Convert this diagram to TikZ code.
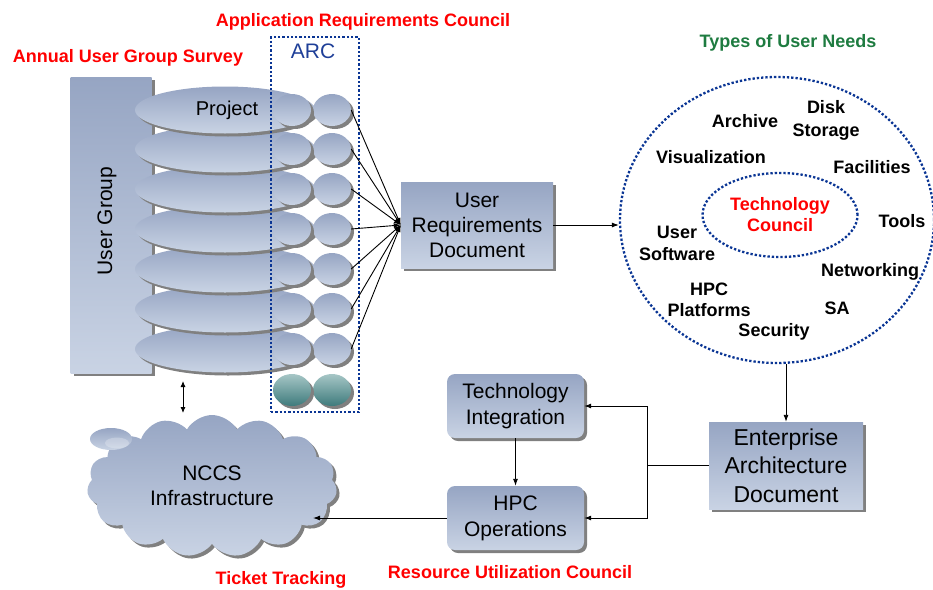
\documentclass[tikz,border=0pt]{standalone}
\usepackage{fontspec}
\setmainfont{Liberation Sans}
\usetikzlibrary{shapes.geometric,shapes.symbols,shadows,arrows.meta}
\definecolor{boxtop}{HTML}{96A5C3}
\definecolor{boxbot}{HTML}{C9D3E4}
\definecolor{tealtop}{HTML}{A6C6C6}
\definecolor{tealbot}{HTML}{3E7B7C}
\definecolor{arcblue}{HTML}{1F3F98}
\definecolor{dotblue}{HTML}{0A3594}
\definecolor{needgreen}{HTML}{1E7B40}
\tikzset{
 shad/.style={drop shadow={shadow xshift=3pt,shadow yshift=-3pt,fill=black!50,opacity=1}},
 grad/.style={top color=boxtop,bottom color=boxbot},
 proj/.style={ellipse,grad,shad,minimum width=180pt,minimum height=47pt,inner sep=0pt},
 ball/.style={ellipse,grad,shad,minimum width=38pt,minimum height=32pt,inner sep=0pt},
 tball/.style={ellipse,top color=tealtop,bottom color=tealbot,shad,minimum width=38pt,minimum height=32pt,inner sep=0pt},
 docbox/.style={rectangle,grad,shad,align=center,inner sep=0pt},
 rbox/.style={rectangle,rounded corners=8pt,grad,shad,align=center,inner sep=0pt,minimum width=137pt,minimum height=64pt,font=\fontsize{21}{26}\selectfont},
 redlbl/.style={text=red,font=\bfseries\fontsize{18}{20}\selectfont},
 need/.style={font=\bfseries\fontsize{18}{22}\selectfont,align=center,inner sep=0pt},
 dotline/.style={draw=dotblue,line width=2.3pt,dash pattern=on 2.3pt off 2pt},
 arr/.style={-{Latex[length=7pt,width=5pt]},line width=0.9pt},
 plain/.style={line width=0.9pt},
}
\begin{document}
\begin{tikzpicture}[x=1pt,y=-1pt]
\useasboundingbox (0,0) rectangle (933,589);
% titles
\node[redlbl] (t1) at (363,22) {Application Requirements Council};
\node[redlbl] (t2) at (128,58) {Annual User Group Survey};
\node[text=needgreen,font=\bfseries\fontsize{18}{20}\selectfont] (t3) at (788,43) {Types of User Needs};
\node[redlbl] (t4) at (281,580) {Ticket Tracking};
\node[redlbl] (t5) at (510,572) {Resource Utilization Council};
% user group
\node[rectangle,grad,shad,minimum width=81pt,minimum height=296pt,inner sep=0pt] (ug) at (111,225) {};
\node[rotate=90,font=\fontsize{21}{24}\selectfont] (ugt) at (107,221) {User Group};
% project ellipses (bottom to top)
\node[proj] (p7) at (225,349) {};
\node[proj] (p6) at (225,309) {};
\node[proj] (p5) at (225,269) {};
\node[proj] (p4) at (225,229) {};
\node[proj] (p3) at (225,189) {};
\node[proj] (p2) at (225,149) {};
\node[proj] (p1) at (225,110) {};
\node[font=\fontsize{20}{24}\selectfont] (ptxt) at (227,110) {Project};
% balls
\foreach \i/\y in {1/110,2/149,3/189,4/229,5/269,6/309,7/349}{
  \node[ball] (b\i) at (332,\y) {};
  \node[ball] (a\i) at (292,\y) {};
}
\node[tball] (tb2) at (332,390) {};
\node[tball] (tb1) at (292,390) {};
% ARC
\node[dotline,rectangle,minimum width=88pt,minimum height=375pt,inner sep=0pt] (arc) at (315,224.5) {};
\node[text=arcblue,font=\fontsize{21}{24}\selectfont] (arct) at (313,51) {ARC};
% URD
\node[docbox,minimum width=152pt,minimum height=86pt,font=\fontsize{21}{25}\selectfont] (urd) at (477,225) {User\\Requirements\\Document};
\foreach \i in {1,...,7}{ \draw[arr] (b\i.east) -- (urd.west); }
% needs
\node[ellipse,dotline,minimum width=314pt,minimum height=286pt] (needs) at (777,220) {};
\node[ellipse,dotline,minimum width=155pt,minimum height=84pt,align=center,text=red,font=\bfseries\fontsize{18}{21}\selectfont,inner sep=0pt] (tc) at (780,215) {Technology\\Council};
\node[need] (n1) at (745,121) {Archive};
\node[need,font=\bfseries\fontsize{18}{23}\selectfont] (n2) at (826,120) {Disk\\Storage};
\node[need] (n3) at (711,157) {Visualization};
\node[need] (n4) at (872,167) {Facilities};
\node[need] (n5) at (902,221) {Tools};
\node[need] (n6) at (677,243) {User\\Software};
\node[need] (n7) at (870,272) {Networking};
\node[need,font=\bfseries\fontsize{18}{21}\selectfont] (n8) at (709,300) {HPC\\Platforms};
\node[need] (n9) at (837,308) {SA};
\node[need] (n10) at (774,332) {Security};
\draw[arr] (urd.east) -- (urd.east -| needs.west);
% EAD
\node[docbox,minimum width=154pt,minimum height=87pt,font=\fontsize{23}{28.5}\selectfont] (ead) at (786,465.5) {Enterprise\\Architecture\\Document};
\draw[arr] (ead.north |- needs.south) -- (ead.north);
% TI / HPC
\node[rbox] (ti) at (515.5,406) {Technology\\Integration};
\node[rbox] (hpc) at (515.5,518) {HPC\\Operations};
\draw[arr] (ti.south) -- (hpc.north);
\coordinate (j) at (647,465.5);
\draw[plain] (ead.west) -- (j);
\draw[arr] (j) |- (ti.east);
\draw[arr] (j) |- (hpc.east);
% cloud
\node[cloud,cloud puffs=15,cloud puff arc=120,aspect=1.75,grad,shad,minimum width=250pt,minimum height=142pt,inner sep=0pt,align=center,font=\fontsize{21}{25}\selectfont] (cloud) at (212,486) {NCCS\\Infrastructure};
\node[ellipse,top color=boxtop,bottom color=boxbot,minimum width=42pt,minimum height=22pt,inner sep=0pt] (puff) at (111,439) {};
\node[ellipse,fill=white,opacity=0.25,minimum width=24pt,minimum height=11pt,inner sep=0pt] (puffi) at (117,443) {};
\coordinate (ct) at (313,518);
\draw[arr] (hpc.west) -- (ct);
\coordinate (ua) at (183,381);
\coordinate (ub) at (183,413);
\draw[{Latex[length=6pt,width=5pt]}-{Latex[length=6pt,width=5pt]},line width=0.9pt] (ua) -- (ub);
\end{tikzpicture}
\end{document}
